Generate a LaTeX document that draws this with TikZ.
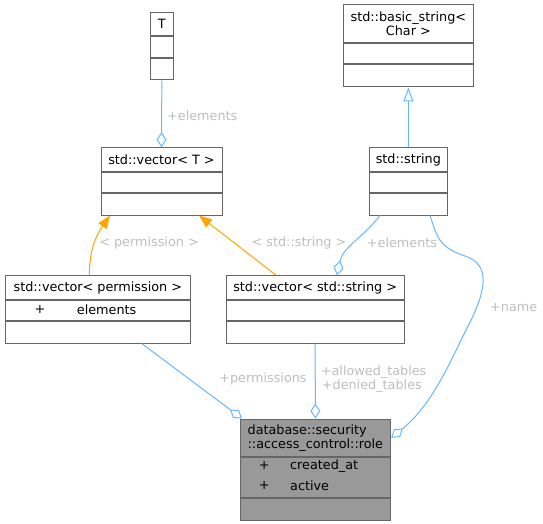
\documentclass[tikz,border=0pt]{standalone}
\usepackage{fontspec}
\setmainfont{DejaVu Sans}
\usepackage{tikz}
\usetikzlibrary{positioning, arrows.meta}

\definecolor{boxgray}{HTML}{666666}
\definecolor{rolegray}{HTML}{999999}
\definecolor{edgeblue}{HTML}{63B8FF}
\definecolor{edgeorange}{HTML}{FFA500}
\definecolor{lblgray}{HTML}{BEBEBE}

\tikzset{
    cls/.style={draw=boxgray, line width=1pt, fill=white, inner sep=0pt, text=black},
    clsrole/.style={cls, fill=rolegray},
    lbl/.style={text=lblgray, inner sep=0pt},
    field/.style={inner sep=0pt, text=black},
    aggr/.style={draw=edgeblue, line width=1pt, -{Diamond[open, length=15pt, width=10pt]}},
    inherit/.style={draw=edgeorange, line width=1pt, -{Triangle[length=13pt, width=10pt]}},
    extends/.style={draw=edgeblue, line width=1pt, -{Triangle[open, length=14pt, width=10pt]}}
}

\begin{document}
\begin{tikzpicture}[x=1pt, y=-1pt, font=\fontsize{12.8}{14.3}\selectfont]
            \useasboundingbox (0,0) rectangle (543,524);

            % classes
            \node[cls, minimum width=22.3, minimum height=23.7] (T) at (161.85,24.15) {T};
            \node[cls, minimum width=22.3, minimum height=20.3, below=0pt of T] (Ta) {};
            \node[cls, minimum width=22.3, minimum height=21.7, below=0pt of Ta] (Tm) {};

            \node[cls, minimum width=121, minimum height=24] (vecT) at (161.5,159.7) {std::vector< T >};
            \node[cls, minimum width=121, minimum height=19.6, below=0pt of vecT] (vecTa) {};
            \node[cls, minimum width=121, minimum height=21.7, below=0pt of vecTa] (vecTm) {};

            \node[cls, minimum width=130.7, minimum height=37.7, align=center] (bs) at (408.35,23.85) {std::basic\_string<\\Char >};
            \node[cls, minimum width=130.7, minimum height=20, below=0pt of bs] (bsa) {};
            \node[cls, minimum width=130.7, minimum height=22.3, below=0pt of bsa] (bsm) {};

            \node[cls, minimum width=78.7, minimum height=24] (str) at (408.35,159.7) {std::string};
            \node[cls, minimum width=78.7, minimum height=19.6, below=0pt of str] (stra) {};
            \node[cls, minimum width=78.7, minimum height=21.7, below=0pt of stra] (strm) {};

            \node[cls, minimum width=185.7, minimum height=23.6] (vecP) at (97.85,287.5) {std::vector< permission >};
            \node[cls, minimum width=185.7, minimum height=20, below=0pt of vecP] (vecPa) {};
            \node[cls, minimum width=185.7, minimum height=21.7, below=0pt of vecPa] (vecPm) {};
            \node[field] (vecPplus) at (40,309.3) {+};
            \node[field, anchor=west] (vecPelem) at (76.7,309.3) {elements};

            \node[cls, minimum width=178.3, minimum height=23.6] (vecS) at (315.15,287.5) {std::vector< std::string >};
            \node[cls, minimum width=178.3, minimum height=20, below=0pt of vecS] (vecSa) {};
            \node[cls, minimum width=178.3, minimum height=21.7, below=0pt of vecSa] (vecSm) {};

            \node[clsrole, minimum width=150.7, minimum height=37.7, align=left] (role) at (315.35,437.85) {database::security\\::access\_control::role};
            \node[clsrole, minimum width=150.7, minimum height=40, below=0pt of role] (rolea) {};
            \node[clsrole, minimum width=150.7, minimum height=21.6, below=0pt of rolea] (rolem) {};
            \node[field] (roleplusA) at (264.3,465.7) {+};
            \node[field, anchor=west] (rolecreated) at (290,465.7) {created\_at};
            \node[field] (roleplusB) at (264.3,485.7) {+};
            \node[field, anchor=west] (roleactive) at (290,485.7) {active};

            % connectors
            \draw[aggr] (Tm.south) -- (vecT.north);
            \node[lbl, anchor=west] (lblTelem) at (167,115.5) {+elements};

            \draw[extends] (str.north) -- (bsm.south);

            \draw[inherit] ([xshift=-8.5pt]vecP.north) to[out=90, in=-125] ([xshift=-51.5pt]vecTm.south);
            \node[lbl] (lblperm) at (149,243) {< permission >};

            \draw[inherit] ([xshift=-39.2pt]vecS.north) -- ([xshift=37.5pt]vecTm.south);
            \node[lbl] (lblstr) at (299,243) {< std::string >};

            \draw[aggr] ([xshift=-28.3pt]strm.south) to[out=-128, in=78] ([xshift=21.8pt]vecS.north);
            \node[lbl, anchor=west] (lblSelem) at (366.7,243) {+elements};

            \draw[aggr] ([xshift=21.7pt]strm.south) .. controls (437,236) and (438,247) .. (465,256)
                .. controls (489,264) and (489,287) .. (466,330)
                .. controls (450,362) and (432,405) .. (role.east);
            \node[lbl, anchor=west] (lblname) at (490,307.7) {+name};

            \draw[aggr] ([xshift=43.85pt]vecPm.south) -- ([xshift=-73.35pt]role.north);
            \node[lbl] (lblperms) at (263,379) {+permissions};

            \draw[aggr] (vecSm.south) -- (role.north);
            \node[lbl, anchor=west] (lblallowed) at (320.7,371.7) {+allowed\_tables};
            \node[lbl, anchor=west] (lbldenied) at (321.7,386) {+denied\_tables};
\end{tikzpicture}
\end{document}
